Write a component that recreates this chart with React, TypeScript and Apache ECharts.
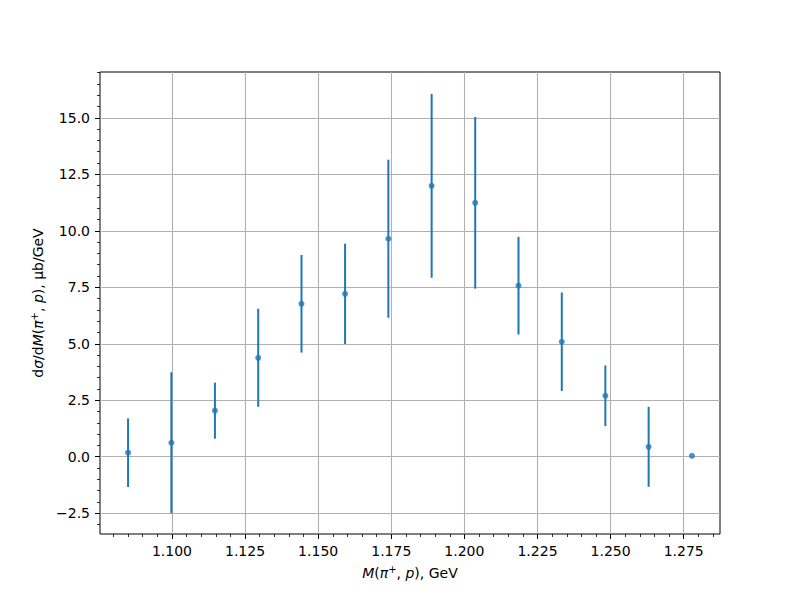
import React, { useEffect, useRef } from "react";
import * as echarts from "echarts";

const massValues = [1.0850, 1.0998, 1.1147, 1.1295, 1.1443, 1.1592, 1.1740, 1.1888, 1.2037, 1.2185, 1.2333, 1.2482, 1.2630, 1.2778];
const crossSection = [0.18, 0.62, 2.04, 4.38, 6.77, 7.21, 9.65, 11.99, 11.24, 7.57, 5.09, 2.70, 0.44, 0.04];
const crossSectionErr = [1.52, 3.12, 1.24, 2.17, 2.16, 2.22, 3.50, 4.07, 3.80, 2.16, 2.18, 1.34, 1.77, 0.0];

const xMajorTicks = [1.100, 1.125, 1.150, 1.175, 1.200, 1.225, 1.250, 1.275];
const yMajorTicks = [-2.5, 0.0, 2.5, 5.0, 7.5, 10.0, 12.5, 15.0];
const xMinorTicks = [1.080, 1.085, 1.090, 1.095, 1.105, 1.110, 1.115, 1.120, 1.130, 1.135, 1.140, 1.145, 1.155, 1.160, 1.165, 1.170, 1.180, 1.185, 1.190, 1.195, 1.205, 1.210, 1.215, 1.220, 1.230, 1.235, 1.240, 1.245, 1.255, 1.260, 1.265, 1.270, 1.280, 1.285];
const yMinorTicks = [-3.0, -2.0, -1.5, -1.0, -0.5, 0.5, 1.0, 1.5, 2.0, 3.0, 3.5, 4.0, 4.5, 5.5, 6.0, 6.5, 7.0, 8.0, 8.5, 9.0, 9.5, 10.5, 11.0, 11.5, 12.0, 13.0, 13.5, 14.0, 14.5, 15.5, 16.0, 16.5, 17.0];

const X_MIN = 1.0754;
const X_MAX = 1.2874;
const Y_MIN = -3.42;
const Y_MAX = 17.03;

const FONT = "DejaVu Sans";
const BLUE = "#1f77b4";

export default function App() {
  const ref = useRef<HTMLDivElement>(null);

  useEffect(() => {
    if (!ref.current) return;
    const chart = echarts.init(ref.current, null, { renderer: "svg" });

    const data = massValues.map((m, i) => [m, crossSection[i], crossSectionErr[i]]);

    const rich = {
      i: { fontStyle: "italic", fontFamily: FONT, fontSize: 14, color: "#000" },
      s: { fontFamily: FONT, fontSize: 10, color: "#000", padding: [0, 0, 7, 0] },
      n: { fontFamily: FONT, fontSize: 14, color: "#000" },
    };

    const baseX = {
      type: "value",
      position: "bottom",
      min: X_MIN,
      max: X_MAX,
      axisLine: { show: false, onZero: false },
    };
    const baseY = {
      type: "value",
      position: "left",
      min: Y_MIN,
      max: Y_MAX,
      axisLine: { show: false, onZero: false },
    };

    chart.setOption({
      animation: false,
      backgroundColor: "#ffffff",
      grid: {
        left: 100,
        right: 80,
        top: 72,
        bottom: 66,
        show: true,
        borderColor: "#000",
        borderWidth: 1,
        backgroundColor: "transparent",
      },
      xAxis: [
        {
          ...baseX,
          name: "{i|M}{n|(}{i|π}{s|+}{n|, }{i|p}{n|), GeV}",
          nameLocation: "middle",
          nameGap: 30,
          nameTextStyle: { rich },
          axisTick: { show: true, length: 5, lineStyle: { color: "#000", width: 1 }, customValues: xMajorTicks },
          axisLabel: {
            customValues: xMajorTicks,
            margin: 10,
            fontFamily: FONT,
            fontSize: 14,
            color: "#000",
            formatter: (v: number) => v.toFixed(3),
          },
          splitLine: { show: true, lineStyle: { color: "#b0b0b0", width: 1.1 } },
        },
        {
          ...baseX,
          axisTick: { show: true, length: 3, lineStyle: { color: "#000", width: 0.8 }, customValues: xMinorTicks },
          axisLabel: { show: false },
          splitLine: { show: false },
        },
      ],
      yAxis: [
        {
          ...baseY,
          name: "{n|d}{i|σ}{n|/d}{i|M}{n|(}{i|π}{s|+}{n|, }{i|p}{n|), μb/GeV}",
          nameLocation: "middle",
          nameRotate: 90,
          nameGap: 50,
          nameTextStyle: { rich },
          axisTick: { show: true, length: 5, lineStyle: { color: "#000", width: 1 }, customValues: yMajorTicks },
          axisLabel: {
            customValues: yMajorTicks,
            margin: 10,
            fontFamily: FONT,
            fontSize: 14,
            color: "#000",
            formatter: (v: number) => (v < 0 ? "\u2212" + Math.abs(v).toFixed(1) : v.toFixed(1)),
          },
          splitLine: { show: true, lineStyle: { color: "#b0b0b0", width: 1.1 } },
        },
        {
          ...baseY,
          axisTick: { show: true, length: 3, lineStyle: { color: "#000", width: 0.8 }, customValues: yMinorTicks },
          axisLabel: { show: false },
          splitLine: { show: false },
        },
      ],
      series: [
        {
          type: "custom",
          xAxisIndex: 0,
          yAxisIndex: 0,
          data,
          z: 3,
          renderItem: (params: any, api: any) => {
            const x = api.value(0);
            const y = api.value(1);
            const e = api.value(2);
            const top = api.coord([x, y + e]);
            const bot = api.coord([x, y - e]);
            return {
              type: "line",
              shape: { x1: top[0], y1: top[1], x2: bot[0], y2: bot[1] },
              style: { stroke: BLUE, lineWidth: 2 },
            };
          },
        },
        {
          type: "scatter",
          xAxisIndex: 0,
          yAxisIndex: 0,
          data: data.map((d) => [d[0], d[1]]),
          symbol: "circle",
          symbolSize: 6,
          itemStyle: { color: BLUE },
          z: 4,
        },
      ],
    });

    return () => chart.dispose();
  }, []);

  return <div ref={ref} style={{ position: "fixed", left: 0, top: 0, width: 800, height: 600 }} />;
}
